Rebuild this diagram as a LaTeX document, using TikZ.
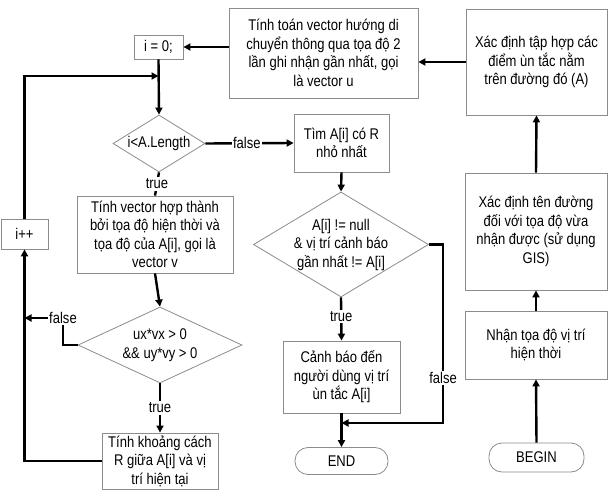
\documentclass[tikz,border=0pt]{standalone}
\usepackage{fontspec}
\setmainfont{Liberation Sans}[FakeStretch=0.84]
\usetikzlibrary{arrows.meta,shapes.geometric}
\newcommand\nodefont{\fontsize{15.5}{18.5}\selectfont}
\definecolor{boxgray}{HTML}{8C8C8C}
\begin{document}
\begin{tikzpicture}[x=1pt,y=-1pt,
  box/.style={draw=boxgray, line width=0.8pt, fill=white, inner sep=0pt, align=center, font=\nodefont},
  term/.style={box, rounded corners=13pt},
  dia/.style={diamond, draw=boxgray, line width=0.8pt, fill=white, inner sep=0pt},
  dtext/.style={align=center, font=\nodefont, inner sep=0pt},
  conn/.style={line width=2.4pt},
  arr/.style={line width=2.4pt, -{Triangle[length=7pt,width=7pt]}},
  lab/.style={fill=white, inner sep=1.5pt, font=\nodefont}]
\useasboundingbox (0,0) rectangle (608,492);
\fill[white] (0,0) rectangle (608,492);

% nodes
\node[box, minimum width=189pt, minimum height=90pt] (tinhtoan) at (323.5,53)
  {Tính toán vector hướng di\\chuyển thông qua tọa độ 2\\lần ghi nhận gần nhất, gọi\\là vector u};
\node[box, minimum width=49pt, minimum height=24pt] (i0) at (158.5,47) {i = 0;};
\node[box, minimum width=141pt, minimum height=106pt] (taphop) at (536.5,62)
  {Xác định tập hợp các\\điểm ùn tắc nằm\\trên đường đó (A)};
\node[dia, minimum width=92pt, minimum height=57pt] (d1) at (159,143.5) {};
\node[dtext] (d1t) at (d1.center) {i<A.Length};
\node[box, minimum width=95pt, minimum height=58pt] (tim) at (341.5,143)
  {Tìm A[i] có R\\nhỏ nhất};
\node[box, minimum width=156pt, minimum height=77pt] (tinhvec) at (155,234.5)
  {Tính vector hợp thành\\bởi tọa độ hiện thời và\\tọa độ của A[i], gọi là\\vector v};
\node[box, minimum width=47pt, minimum height=30pt] (ipp) at (24.5,234) {i++};
\node[dia, minimum width=164pt, minimum height=76pt] (d2) at (160,345) {};
\node[dtext] (d2t) at (d2.center) {ux*vx > 0\\\&\& uy*vy > 0};
\node[box, minimum width=116pt, minimum height=56pt] (khoang) at (160,461)
  {Tính khoảng cách\\R giữa A[i] và vị\\trí hiện tại};
\node[dia, minimum width=175pt, minimum height=105pt] (d3) at (341,244.5) {};
\node[dtext] (d3t) at (d3.center) {A[i] != null\\\& vị trí cảnh báo\\gần nhất != A[i]};
\node[box, minimum width=117pt, minimum height=72pt] (canhbao) at (341.5,377)
  {Cảnh báo đến\\người dùng vị trí\\ùn tắc A[i]};
\node[term, minimum width=93pt, minimum height=27pt] (end) at (341.5,461) {END};
\node[term, minimum width=95pt, minimum height=29pt] (begin) at (536.5,457.5) {BEGIN};
\node[box, minimum width=142pt, minimum height=68pt] (nhan) at (536,345)
  {Nhận tọa độ vị trí\\hiện thời};
\node[box, minimum width=142pt, minimum height=117pt] (tenduong) at (536,231.5)
  {Xác định tên đường\\đối với tọa độ vừa\\nhận được (sử dụng\\GIS)};

% helper coordinates
\coordinate (j1) at (158.5,76);
\coordinate (f2) at (63,318);
\coordinate (f2e) at (ipp.south |- f2);
\coordinate (f3c) at (443,423);
\coordinate (j3) at (canhbao.south |- f3c);

% connectors
\draw[arr] (taphop.west) -- (taphop.west -| tinhtoan.east);
\draw[arr] (i0.east -| tinhtoan.west) -- (i0.east);
\draw[arr] (i0.south) -- (d1.north);
\draw[arr] (ipp.north) |- (j1);
\draw[arr] (d1.east) -- node[lab, pos=0.47] {false} (tim.west);
\draw[conn] (d1.south) -- node[lab] {true} (tinhvec.north);
\draw[arr] (tinhvec.south) -- (d2.north);
\draw[arr] (d2.west) -| (f2) -- (f2e);
\node[lab] (f2l) at (f2) {false};
\draw[arr] (d2.south) -- node[lab] {true} (khoang.north);
\draw[arr] (khoang.west) -| (ipp.south);
\draw[arr] (tim.south) -- (d3.north);
\draw[arr] (d3.east) -| (f3c) -- (j3);
\node[lab] (f3l) at (443,378) {false};
\draw[arr] (d3.south) -- node[lab, pos=0.45] {true} (canhbao.north);
\draw[arr] (canhbao.south) -- (end.north);
\draw[arr] (begin.north) -- (nhan.south);
\draw[arr] (nhan.north) -- (tenduong.south);
\draw[arr] (tenduong.north) -- (taphop.south);
\end{tikzpicture}
\end{document}
